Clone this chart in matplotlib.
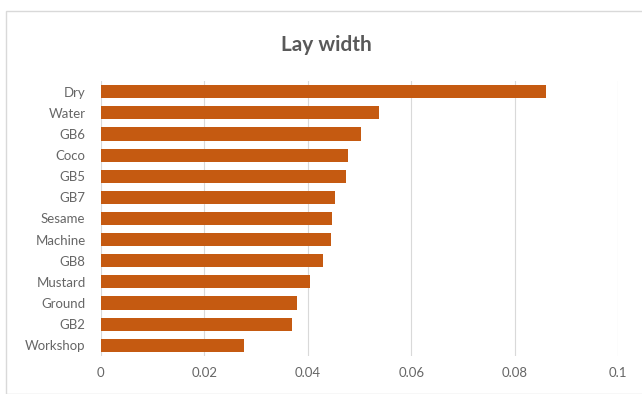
import matplotlib.pyplot as plt
from matplotlib.patches import Rectangle

# lay width per treatment, top to bottom
labels = ["Dry", "Water", "GB6", "Coco", "GB5", "GB7", "Sesame", "Machine",
          "GB8", "Mustard", "Ground", "GB2", "Workshop"]
widths = [0.0861, 0.0538, 0.0502, 0.0477, 0.0473, 0.0452, 0.0447, 0.0445,
          0.0429, 0.0405, 0.0379, 0.0370, 0.0277]
xticks = [0, 0.02, 0.04, 0.06, 0.08, 0.1]
xtick_labels = ["0", "0.02", "0.04", "0.06", "0.08", "0.1"]

plt.rcParams['font.family'] = ['Lato', 'DejaVu Sans']
grey = "#666666"

fig = plt.figure(figsize=(6.42, 3.94), dpi=100)
ax = fig.add_axes([0.157, 0.097, 0.806, 0.697])

pos = list(range(len(labels)))
ax.barh(pos, widths, height=0.62, color="#C55A11", zorder=3)
ax.set_ylim(len(labels) - 0.5, -0.5)
ax.set_yticks(pos)
ax.set_yticklabels(labels)
ax.set_xlim(0, 0.1)
ax.set_xticks(xticks)
ax.set_xticklabels(xtick_labels)
ax.xaxis.grid(True, color="#D9D9D9", linewidth=0.8, zorder=0)
ax.tick_params(length=0, labelsize=9.5, colors=grey)
ax.tick_params(axis="y", pad=11)
ax.tick_params(axis="x", pad=8)
for s in ax.spines.values():
    s.set_visible(False)

fig.text(0.509, 0.885, "Lay width", ha="center", va="center",
         fontsize=15, fontweight="bold", color="#595959")

# light frame around the chart area
fig.patches.append(Rectangle((6 / 642, 0.0), 1.0, 1 - 11 / 394,
                             transform=fig.transFigure, fill=False,
                             edgecolor="#D9D9D9", linewidth=1))

fig.savefig("out.png", dpi=100)
